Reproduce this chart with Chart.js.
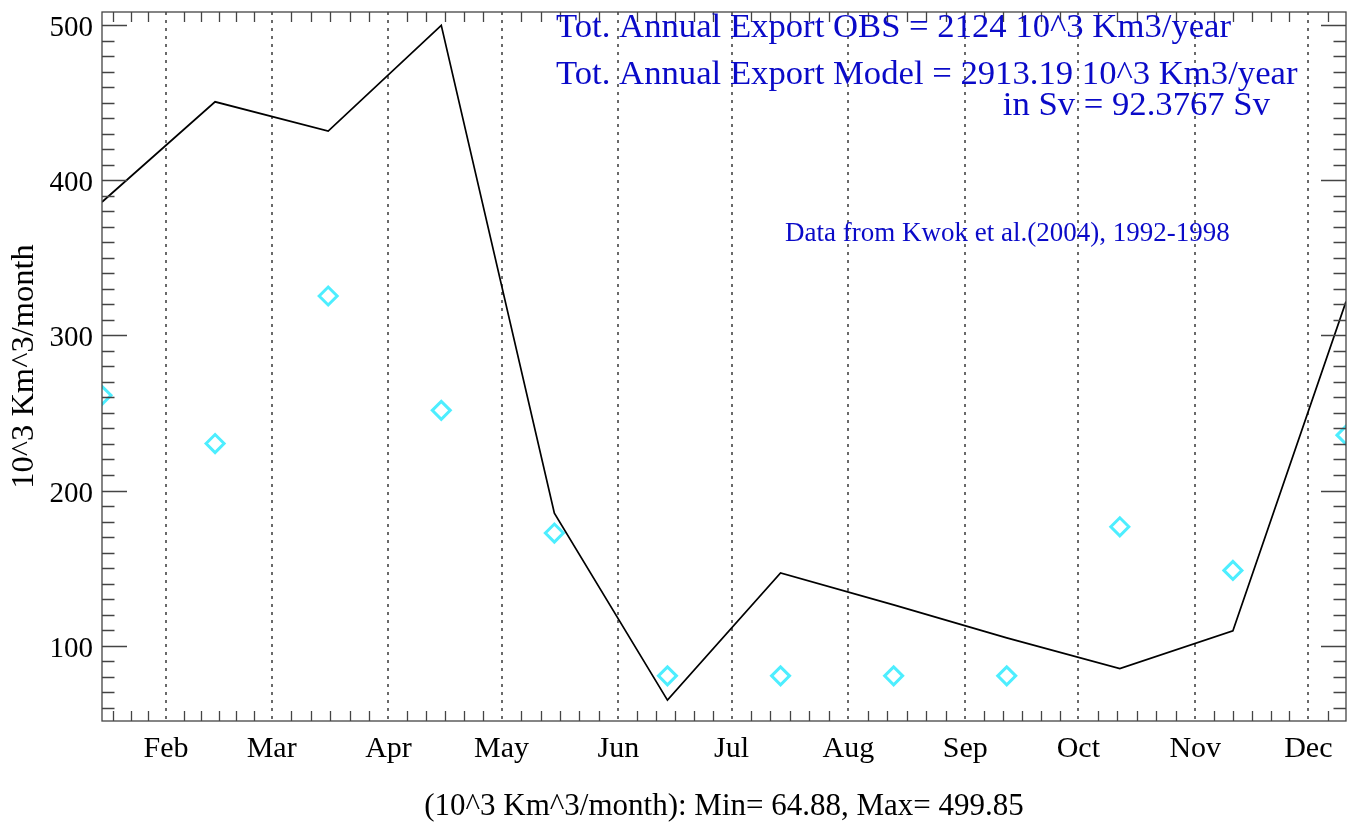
<!DOCTYPE html>
<html>
<head>
<meta charset="utf-8">
<title>Annual export</title>
<script src="https://cdn.jsdelivr.net/npm/chart.js@4.4.1/dist/chart.umd.min.js"></script>
<style>
  html, body { margin: 0; padding: 0; background: #fff; }
  canvas { display: block; }
</style>
</head>
<body>
<canvas id="export-chart" width="1358" height="823"></canvas>
<script>
// Monthly export in 10^3 km^3/month, placed at mid-month (day of year)
const pointDays = [15, 45, 75, 105, 135, 165, 195, 225, 255, 285, 315, 345];
const modelExport = [386.0, 450.6, 431.7, 499.85, 185.4, 64.88, 146.9, 126.3, 105.0, 85.2, 109.6, 321.8];
const obsExport = [261.4, 230.3, 325.4, 251.7, 172.6, 80.5, 80.5, 80.5, 80.5, 176.6, 148.5, 235.7];

// Month boundaries (day of year) with their labels; 366 closes December
const monthStartDays = [32, 60, 91, 121, 152, 182, 213, 244, 274, 305, 335];
const monthLabels = ['Feb', 'Mar', 'Apr', 'May', 'Jun', 'Jul', 'Aug', 'Sep', 'Oct', 'Nov', 'Dec'];
const yearEndDay = 366;

const yTickValues = [100, 200, 300, 400, 500];
const yMinorStep = 10;

const xRange = [15, 345];
const yRange = [51.4, 508.5];

const FONT = '"Liberation Serif", "Times New Roman", serif';
const BLUE = '#0a0ac8';
const AXIS = '#444';

// Minor ticks: six per month, first partial interval uses February's spacing
function xMinorTicks() {
  const out = [];
  const bounds = monthStartDays.concat([yearEndDay]);
  const firstStep = (bounds[1] - bounds[0]) / 6;
  for (let d = bounds[0] - firstStep; d > xRange[0]; d -= firstStep) out.push(d);
  for (let i = 0; i < bounds.length - 1; i++) {
    const step = (bounds[i + 1] - bounds[i]) / 6;
    for (let k = 1; k < 6; k++) {
      const d = bounds[i] + k * step;
      if (d < xRange[1]) out.push(d);
    }
  }
  return out;
}

const idlAxes = {
  id: 'idlAxes',
  beforeDatasetsDraw(chart) {
    const { ctx, chartArea: a, scales: { x } } = chart;
    ctx.save();
    ctx.strokeStyle = '#6a6a6a';
    ctx.lineWidth = 2;
    ctx.setLineDash([3, 5]);
    monthStartDays.forEach((d) => {
      const px = Math.round(x.getPixelForValue(d));
      ctx.beginPath();
      ctx.moveTo(px, a.top);
      ctx.lineTo(px, a.bottom);
      ctx.stroke();
    });
    ctx.restore();
  },
  afterDatasetsDraw(chart) {
    const { ctx, chartArea: a, scales: { x, y } } = chart;
    ctx.save();

    // frame
    ctx.strokeStyle = AXIS;
    ctx.lineWidth = 1.3;
    ctx.strokeRect(a.left, a.top, a.right - a.left, a.bottom - a.top);

    // x minor ticks, bottom and top
    ctx.beginPath();
    xMinorTicks().forEach((d) => {
      const px = Math.round(x.getPixelForValue(d)) + 0.5;
      ctx.moveTo(px, a.bottom); ctx.lineTo(px, a.bottom - 10);
      ctx.moveTo(px, a.top); ctx.lineTo(px, a.top + 10);
    });
    // y ticks, left and right
    for (let v = Math.ceil(yRange[0] / yMinorStep) * yMinorStep; v <= yRange[1]; v += yMinorStep) {
      const py = Math.round(y.getPixelForValue(v)) + 0.5;
      const len = yTickValues.includes(v) ? 25 : 12.5;
      ctx.moveTo(a.left, py); ctx.lineTo(a.left + len, py);
      ctx.moveTo(a.right, py); ctx.lineTo(a.right - len, py);
    }
    ctx.stroke();

    // tick labels
    ctx.fillStyle = '#000';
    ctx.font = `29px ${FONT}`;
    ctx.textAlign = 'right';
    ctx.textBaseline = 'alphabetic';
    yTickValues.forEach((v) => {
      ctx.fillText(String(v), a.left - 9, y.getPixelForValue(v) + 11);
    });
    ctx.font = `30px ${FONT}`;
    ctx.textAlign = 'center';
    monthStartDays.forEach((d, i) => {
      ctx.fillText(monthLabels[i], x.getPixelForValue(d), 757);
    });

    // axis titles
    ctx.font = `31px ${FONT}`;
    ctx.fillText('(10^3 Km^3/month): Min= 64.88, Max= 499.85', (a.left + a.right) / 2, 815);
    ctx.save();
    ctx.font = `32.5px ${FONT}`;
    ctx.translate(33, (a.top + a.bottom) / 2);
    ctx.rotate(-Math.PI / 2);
    ctx.fillText('10^3 Km^3/month', 0, 0);
    ctx.restore();

    // annotations
    ctx.fillStyle = BLUE;
    ctx.textAlign = 'left';
    ctx.font = `34.7px ${FONT}`;
    ctx.fillText('Tot. Annual Export OBS = 2124 10^3 Km3/year', 556, 37);
    ctx.fillText('Tot. Annual Export Model = 2913.19 10^3 Km3/year', 556, 84);
    ctx.textAlign = 'right';
    ctx.fillText('in Sv = 92.3767 Sv', 1270, 115);
    ctx.textAlign = 'left';
    ctx.font = `27px ${FONT}`;
    ctx.fillText('Data from Kwok et al.(2004), 1992-1998', 785, 241);

    ctx.restore();
  },
};

new Chart(document.getElementById('export-chart'), {
  type: 'line',
  data: {
    datasets: [
      {
        label: 'Model',
        data: pointDays.map((d, i) => ({ x: d, y: modelExport[i] })),
        borderColor: '#000',
        borderWidth: 1.7,
        pointRadius: 0,
        tension: 0,
        fill: false,
        clip: 0,
      },
      {
        label: 'OBS',
        data: pointDays.map((d, i) => ({ x: d, y: obsExport[i] })),
        showLine: false,
        pointStyle: 'rectRot',
        pointRadius: 9,
        borderColor: '#4deeff',
        backgroundColor: 'rgba(0,0,0,0)',
        borderWidth: 3,
        clip: 0,
      },
    ],
  },
  options: {
    responsive: false,
    animation: false,
    events: [],
    layout: { padding: { left: 102, top: 9, right: 11, bottom: 102 } },
    plugins: { legend: { display: false }, tooltip: { enabled: false } },
    scales: {
      x: { type: 'linear', min: xRange[0], max: xRange[1], display: false },
      y: { type: 'linear', min: yRange[0], max: yRange[1], display: false },
    },
  },
  plugins: [idlAxes],
});
</script>
</body>
</html>
